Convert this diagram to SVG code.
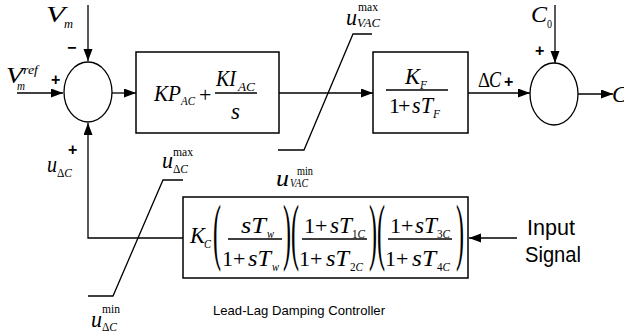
<svg xmlns="http://www.w3.org/2000/svg" width="624" height="331" viewBox="0 0 624 331">
<defs>
<marker id="ah" markerUnits="userSpaceOnUse" markerWidth="13" markerHeight="10" refX="12" refY="4.5" orient="auto">
<path d="M0,0 L12,4.5 L0,9 z" fill="#000"/>
</marker>
<style>
.ln{fill:none;stroke:#000;stroke-width:1.3}
.bx{fill:#fff;stroke:#000;stroke-width:1.5}
.m{font-family:"Liberation Serif","Times New Roman",serif;font-size:23px;font-style:italic;fill:#000}
.r{font-family:"Liberation Serif","Times New Roman",serif;font-size:22px;fill:#000}
.s{font-family:"Liberation Serif","Times New Roman",serif;font-size:13px;font-style:italic;fill:#000}
.sr{font-family:"Liberation Serif","Times New Roman",serif;font-size:13px;fill:#000}
.p{font-family:"Liberation Serif","Times New Roman",serif;font-size:74px;fill:#000}
.sg{font-family:"Liberation Sans",Arial,sans-serif;font-size:16px;font-weight:bold;fill:#000}
.t{font-family:"Liberation Sans",Arial,sans-serif;fill:#000}
</style>
</defs>

<g id="connectors">
<path class="ln" d="M17,93 H63" marker-end="url(#ah)"/>
<path class="ln" d="M88,5 V61" marker-end="url(#ah)"/>
<path class="ln" d="M112,93 H136" marker-end="url(#ah)"/>
<path class="ln" d="M279,93 H373" marker-end="url(#ah)"/>
<path class="ln" d="M468,93 H530" marker-end="url(#ah)"/>
<path class="ln" d="M555,5 V63" marker-end="url(#ah)"/>
<path class="ln" d="M578,94 H613" marker-end="url(#ah)"/>
<path class="ln" d="M517,238 H469" marker-end="url(#ah)"/>
<path class="ln" d="M183,238 H88 V123" marker-end="url(#ah)"/>
<path class="ln" d="M278,150 H304 L353,34 H372"/>
<path class="ln" d="M88,296 H113 L163,180 H183"/>
</g>

<g id="sum1">
<ellipse class="ln" cx="88" cy="92" rx="24" ry="30" fill="#fff"/>
<text class="sg" x="51" y="85">+</text>
<text class="sg" x="67" y="53">−</text>
<text class="sg" x="68" y="155">+</text>
</g>

<g id="label-vm">
<text class="m" x="46" y="22" textLength="19" lengthAdjust="spacingAndGlyphs">V</text>
<text class="s" x="64" y="28" textLength="9" lengthAdjust="spacingAndGlyphs">m</text>
</g>
<g id="label-vmref">
<text class="m" x="6" y="83" textLength="17" lengthAdjust="spacingAndGlyphs">V</text>
<text class="s" x="23" y="74" textLength="15" lengthAdjust="spacingAndGlyphs">ref</text>
<text class="s" x="17" y="90" textLength="8" lengthAdjust="spacingAndGlyphs">m</text>
</g>
<g id="label-udc">
<text class="m" x="47" y="172" textLength="10" lengthAdjust="spacingAndGlyphs">u</text>
<text class="s" x="57" y="177" textLength="15" lengthAdjust="spacingAndGlyphs"><tspan font-style="normal">Δ</tspan>C</text>
</g>

<g id="pi-block">
<rect class="bx" x="136" y="52" width="143" height="81"/>
<text class="m" x="154" y="101" textLength="27" lengthAdjust="spacingAndGlyphs">KP</text>
<text class="s" x="181" y="105" textLength="14" lengthAdjust="spacingAndGlyphs">AC</text>
<text class="r" x="199" y="102">+</text>
<line class="ln" x1="215" y1="93" x2="257" y2="93"/>
<text class="m" x="216" y="86" textLength="20" lengthAdjust="spacingAndGlyphs">KI</text>
<text class="s" x="238" y="91" textLength="17" lengthAdjust="spacingAndGlyphs">AC</text>
<text class="m" x="231" y="119">s</text>
</g>

<g id="filter-block">
<rect class="bx" x="373" y="52" width="95" height="81"/>
<text class="m" x="405" y="84" textLength="15" lengthAdjust="spacingAndGlyphs">K</text>
<text class="s" x="420" y="89" textLength="7" lengthAdjust="spacingAndGlyphs">F</text>
<line class="ln" x1="386" y1="90" x2="448" y2="90"/>
<text class="r" x="389" y="113">1</text>
<text class="r" x="398" y="113">+</text>
<text class="m" x="412" y="113" textLength="21" lengthAdjust="spacingAndGlyphs">sT</text>
<text class="s" x="433" y="118" textLength="7" lengthAdjust="spacingAndGlyphs">F</text>
</g>

<g id="label-dc">
<text class="r" x="478" y="87" textLength="12" lengthAdjust="spacingAndGlyphs">Δ</text>
<text class="m" x="489" y="87" textLength="12" lengthAdjust="spacingAndGlyphs">C</text>
<text class="sg" x="504" y="87">+</text>
</g>

<g id="sum2">
<ellipse class="ln" cx="554" cy="94" rx="24" ry="31" fill="#fff"/>
<text class="sg" x="535" y="56">+</text>
</g>
<g id="label-c0">
<text class="m" x="531" y="22" textLength="16" lengthAdjust="spacingAndGlyphs">C</text>
<text class="sr" x="547" y="28" textLength="5" lengthAdjust="spacingAndGlyphs">0</text>
</g>
<g id="label-c">
<text class="m" x="612" y="102">C</text>
</g>

<g id="limit-vac">
<text class="m" x="346" y="25" textLength="11" lengthAdjust="spacingAndGlyphs">u</text>
<text class="s" x="357" y="27" textLength="23" lengthAdjust="spacingAndGlyphs">VAC</text>
<text class="sr" x="358" y="11" textLength="20" lengthAdjust="spacingAndGlyphs">max</text>
<text class="m" x="276" y="186" textLength="13" lengthAdjust="spacingAndGlyphs">u</text>
<text class="s" x="290" y="187" textLength="18" lengthAdjust="spacingAndGlyphs">VAC</text>
<text class="sr" x="297" y="175" textLength="16" lengthAdjust="spacingAndGlyphs">min</text>
</g>

<g id="limit-dc">
<text class="m" x="162" y="168" textLength="11" lengthAdjust="spacingAndGlyphs">u</text>
<text class="s" x="173" y="173" textLength="15" lengthAdjust="spacingAndGlyphs"><tspan font-style="normal">Δ</tspan>C</text>
<text class="sr" x="173" y="156" textLength="20" lengthAdjust="spacingAndGlyphs">max</text>
<text class="m" x="91" y="327" textLength="11" lengthAdjust="spacingAndGlyphs">u</text>
<text class="s" x="102" y="331" textLength="15" lengthAdjust="spacingAndGlyphs"><tspan font-style="normal">Δ</tspan>C</text>
<text class="sr" x="102" y="313" textLength="18" lengthAdjust="spacingAndGlyphs">min</text>
</g>

<g id="leadlag-block">
<rect class="bx" x="183" y="197" width="285" height="81"/>
<text class="m" x="190" y="243" textLength="15" lengthAdjust="spacingAndGlyphs">K</text>
<text class="s" x="204" y="248" textLength="7" lengthAdjust="spacingAndGlyphs">C</text>
<text class="p" x="213" y="256" textLength="8" lengthAdjust="spacingAndGlyphs">(</text>
<text class="m" x="241" y="233" textLength="25" lengthAdjust="spacingAndGlyphs">sT</text>
<text class="s" x="267" y="238" textLength="7" lengthAdjust="spacingAndGlyphs">w</text>
<line class="ln" x1="228" y1="239" x2="282" y2="239"/>
<text class="r" x="222" y="266">1</text>
<text class="r" x="233" y="266">+</text>
<text class="m" x="248" y="266" textLength="23" lengthAdjust="spacingAndGlyphs">sT</text>
<text class="s" x="272" y="271" textLength="7" lengthAdjust="spacingAndGlyphs">w</text>
<text class="p" x="283" y="256" textLength="8" lengthAdjust="spacingAndGlyphs">)</text>
<text class="p" x="291" y="256" textLength="8" lengthAdjust="spacingAndGlyphs">(</text>
<text class="r" x="304" y="233">1</text>
<text class="r" x="315" y="233">+</text>
<text class="m" x="330" y="233" textLength="22" lengthAdjust="spacingAndGlyphs">sT</text>
<text class="sr" x="352" y="238" textLength="13" lengthAdjust="spacingAndGlyphs">1<tspan font-style="italic">C</tspan></text>
<line class="ln" x1="302" y1="239" x2="367" y2="239"/>
<text class="r" x="299" y="266">1</text>
<text class="r" x="310" y="266">+</text>
<text class="m" x="326" y="266" textLength="23" lengthAdjust="spacingAndGlyphs">sT</text>
<text class="sr" x="350" y="271" textLength="13" lengthAdjust="spacingAndGlyphs">2<tspan font-style="italic">C</tspan></text>
<text class="p" x="369" y="256" textLength="8" lengthAdjust="spacingAndGlyphs">)</text>
<text class="p" x="377" y="256" textLength="8" lengthAdjust="spacingAndGlyphs">(</text>
<text class="r" x="390" y="233">1</text>
<text class="r" x="401" y="233">+</text>
<text class="m" x="415" y="233" textLength="22" lengthAdjust="spacingAndGlyphs">sT</text>
<text class="sr" x="437" y="238" textLength="13" lengthAdjust="spacingAndGlyphs">3<tspan font-style="italic">C</tspan></text>
<line class="ln" x1="388" y1="239" x2="452" y2="239"/>
<text class="r" x="385" y="266">1</text>
<text class="r" x="396" y="266">+</text>
<text class="m" x="412" y="266" textLength="24" lengthAdjust="spacingAndGlyphs">sT</text>
<text class="sr" x="437" y="271" textLength="13" lengthAdjust="spacingAndGlyphs">4<tspan font-style="italic">C</tspan></text>
<text class="p" x="456" y="256" textLength="8" lengthAdjust="spacingAndGlyphs">)</text>
</g>

<g id="input-signal">
<text class="t" x="527" y="235" font-size="22" textLength="48" lengthAdjust="spacingAndGlyphs">Input</text>
<text class="t" x="525" y="262" font-size="22" textLength="56" lengthAdjust="spacingAndGlyphs">Signal</text>
</g>
<g id="caption">
<text class="t" x="213" y="315" font-size="13.5" textLength="172" lengthAdjust="spacingAndGlyphs">Lead-Lag Damping Controller</text>
</g>
</svg>
